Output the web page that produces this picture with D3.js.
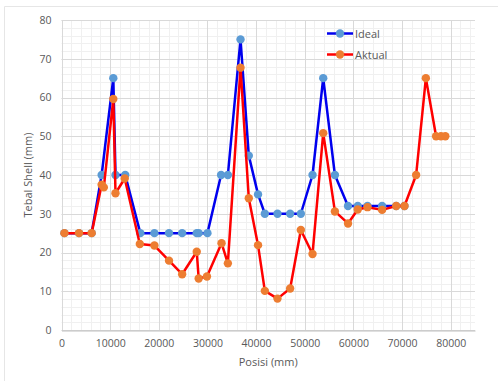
<!DOCTYPE html>
<html>
<head>
<meta charset="utf-8">
<script src="https://cdn.jsdelivr.net/npm/d3@7"></script>
<style>
  html, body { margin: 0; padding: 0; background: #fff; }
  svg { display: block; font-family: "Open Sans", "Liberation Sans", sans-serif; }
</style>
</head>
<body>
<svg id="chart" width="498" height="381"></svg>
<script>
// Shell thickness along the position (mm)
const idealPos = [600, 3600, 6200, 8250, 10650, 11100, 13100, 16200, 19100, 22100, 24800, 27800, 28200, 30000,
  32800, 34200, 36800, 38500, 40400, 41800, 44400, 47000, 49200, 51600, 53800, 56200, 58900, 60900, 62900,
  65900, 68800, 70500];
const idealVal = [25, 25, 25, 40, 65, 40, 40, 25, 25, 25, 25, 25, 25, 25,
  40, 40, 75, 45, 35, 30, 30, 30, 30, 40, 65, 40, 32, 32, 32,
  32, 32, 32];

const actualPos = [600, 3600, 6200, 8250, 8700, 10650, 11100, 13000, 16100, 19100, 22100, 24800, 27800, 28200,
  29900, 32900, 34200, 36800, 38500, 40400, 41800, 44400, 47000, 49200, 51600, 53800, 56200, 58900, 60900,
  62900, 65900, 68800, 70500, 72900, 74900, 77000, 78000, 78900];
const actualVal = [25, 25, 25, 37.5, 36.8, 59.6, 35.3, 39.1, 22.2, 21.8, 17.9, 14.4, 20.2, 13.3,
  13.8, 22.4, 17.2, 67.7, 34, 21.9, 10.1, 8.1, 10.7, 25.8, 19.6, 50.8, 30.6, 27.5, 31.1,
  31.7, 31, 32, 32, 40, 65, 50, 50, 50];

const xTicks = [0, 10000, 20000, 30000, 40000, 50000, 60000, 70000, 80000];
const yTicks = [0, 10, 20, 30, 40, 50, 60, 70, 80];

const seriesNames = ["Ideal", "Aktual"];

const svg = d3.select("#chart");
const textColor = "#595959";

// Frame of the chart area
svg.append("path")
  .attr("d", "M4.5,381 V6.5 H498")
  .attr("fill", "none")
  .attr("stroke", "#e6e6e6")
  .attr("stroke-width", 1);

const x = d3.scaleLinear().domain([0, 85000]).range([61.5, 475]);
const y = d3.scaleLinear().domain([0, 80]).range([330, 20]);

// Minor grid
const grid = svg.append("g");
grid.selectAll("line.vmin")
  .data(d3.range(0, 85001, 2000))
  .join("line")
  .attr("x1", d => Math.round(x(d)) + 0.5).attr("x2", d => Math.round(x(d)) + 0.5)
  .attr("y1", y(80)).attr("y2", y(0))
  .attr("stroke", "#f0f0f0");
grid.selectAll("line.hmin")
  .data(d3.range(0, 81, 2))
  .join("line")
  .attr("y1", d => Math.round(y(d)) + 0.5).attr("y2", d => Math.round(y(d)) + 0.5)
  .attr("x1", x(0)).attr("x2", x(85000))
  .attr("stroke", "#f0f0f0");

// Major grid
grid.selectAll("line.vmaj")
  .data(xTicks.concat([0]))
  .join("line")
  .attr("x1", d => Math.round(x(d)) + 0.5).attr("x2", d => Math.round(x(d)) + 0.5)
  .attr("y1", y(80)).attr("y2", y(0))
  .attr("stroke", "#d9d9d9");
grid.selectAll("line.hmaj")
  .data(yTicks)
  .join("line")
  .attr("y1", d => Math.round(y(d)) + 0.5).attr("y2", d => Math.round(y(d)) + 0.5)
  .attr("x1", x(0)).attr("x2", x(85000))
  .attr("stroke", "#d9d9d9");

// Axes
const xAxis = d3.axisBottom(x).tickValues(xTicks).tickSize(0).tickPadding(9).tickFormat(d3.format("d"));
const yAxis = d3.axisLeft(y).tickValues(yTicks).tickSize(0).tickPadding(10).tickFormat(d3.format("d"));

const gx = svg.append("g").attr("transform", `translate(0,${y(0) + 0.5})`).call(xAxis);
gx.select(".domain").attr("stroke", "#bfbfbf");
gx.selectAll("text").attr("fill", textColor).attr("font-size", 10.5).attr("font-family", "Open Sans");

const gy = svg.append("g").attr("transform", `translate(${x(0)},0)`).call(yAxis);
gy.select(".domain").remove();
gy.selectAll("text").attr("fill", textColor).attr("font-size", 10.5).attr("font-family", "Open Sans");

// Axis titles
svg.append("text")
  .attr("x", (x(0) + x(85000)) / 2).attr("y", 366)
  .attr("text-anchor", "middle")
  .attr("fill", textColor).attr("font-size", 11)
  .text("Posisi (mm)");
svg.append("text")
  .attr("transform", `translate(32,${(y(0) + y(80)) / 2}) rotate(-90)`)
  .attr("text-anchor", "middle")
  .attr("fill", textColor).attr("font-size", 11)
  .text("Tebal Shell (mm)");

// Series
const series = [
  { name: seriesNames[0], pos: idealPos, val: idealVal, line: "#0000ee", marker: "#5b9bd5" },
  { name: seriesNames[1], pos: actualPos, val: actualVal, line: "#ff0000", marker: "#ed7d31" }
];

const lineGen = d3.line().x(d => x(d[0])).y(d => y(d[1]));

series.forEach(s => {
  const pts = d3.zip(s.pos, s.val);
  svg.append("path")
    .datum(pts)
    .attr("d", lineGen)
    .attr("fill", "none")
    .attr("stroke", s.line)
    .attr("stroke-width", 2.5)
    .attr("stroke-linejoin", "round");
  svg.append("g").selectAll("circle")
    .data(pts)
    .join("circle")
    .attr("cx", d => x(d[0]))
    .attr("cy", d => y(d[1]))
    .attr("r", 4.2)
    .attr("fill", s.marker);
});

// Legend
const legend = svg.append("g");
series.forEach((s, i) => {
  const ly = 33.5 + i * 21;
  legend.append("line")
    .attr("x1", 327).attr("x2", 353)
    .attr("y1", ly).attr("y2", ly)
    .attr("stroke", s.line).attr("stroke-width", 2.5);
  legend.append("circle")
    .attr("cx", 340).attr("cy", ly).attr("r", 4.2)
    .attr("fill", s.marker);
  legend.append("text")
    .attr("x", 355).attr("y", ly + 4)
    .attr("fill", textColor).attr("font-size", 11)
    .text(s.name);
});
</script>
</body>
</html>
